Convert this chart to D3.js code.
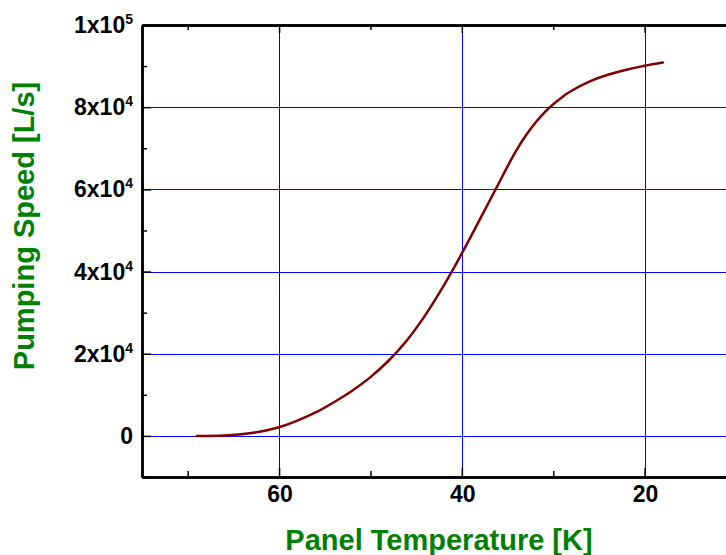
<!DOCTYPE html>
<html>
<head>
<meta charset="utf-8">
<script src="https://cdn.jsdelivr.net/npm/d3@7"></script>
<style>
  body { margin: 0; background: #fff; }
  text { font-family: "Liberation Sans", Arial, sans-serif; font-weight: bold; }
</style>
</head>
<body>
<svg id="chart"></svg>
<script>
// panel temperature [K] vs pumping speed [L/s]
const temps = [69, 66, 63, 60, 58, 56, 54, 52, 50, 48, 46, 44, 42, 40, 38, 36, 35, 34, 33, 32, 31, 30, 29, 28, 26, 24, 22, 20, 18];
const speeds = [0, 120, 690, 2100, 3700, 5700, 8200, 11000, 14300, 18350, 23300, 29400, 36500, 44400, 52800, 61300, 65600, 69600, 73100, 76100, 78600, 80700, 82500, 84000, 86300, 87900, 89100, 90100, 90900];

const xTicks = [60, 40, 20];
const xMinor = [70, 50, 30];
const yTicks = [0, 20000, 40000, 60000, 80000, 100000];
const yMinor = [-10000, 10000, 30000, 50000, 70000, 90000];
const yLabels = [['0', ''], ['2x10', '4'], ['4x10', '4'], ['6x10', '4'], ['8x10', '4'], ['1x10', '5']];

const width = 726, height = 555;
const marginLeft = 142, marginTop = 25, marginBottom = 78, plotRight = 736;

const svg = d3.select('#chart')
  .attr('width', width)
  .attr('height', height);

const x = d3.scaleLinear()
  .domain([75, 10])
  .range([marginLeft, plotRight]);

const y = d3.scaleLinear()
  .domain([-10000, 100000])
  .range([height - marginBottom, marginTop]);

// grid
svg.append('g')
  .selectAll('line')
  .data(yTicks.filter((d) => d < 100000))
  .join('line')
  .attr('x1', marginLeft).attr('x2', plotRight)
  .attr('y1', (d) => Math.round(y(d)) + 0.5).attr('y2', (d) => Math.round(y(d)) + 0.5)
  .style('stroke', '#0000ff')
  .style('stroke-width', 1);

svg.append('g')
  .selectAll('line')
  .data(xTicks)
  .join('line')
  .attr('x1', (d) => Math.round(x(d)) + 0.5).attr('x2', (d) => Math.round(x(d)) + 0.5)
  .attr('y1', marginTop).attr('y2', height - marginBottom)
  .style('stroke', '#0000ff')
  .style('stroke-width', 1);

// curve
const line = d3.line()
  .x((d, i) => x(temps[i]))
  .y((d) => y(d))
  .curve(d3.curveNatural);

svg.append('path')
  .datum(speeds)
  .attr('d', line)
  .style('fill', 'none')
  .style('stroke', '#800000')
  .style('stroke-width', 2.5)
  .style('stroke-linecap', 'round');

// axes, ticks inside
function cleanAxis(g) {
  g.select('.domain').style('stroke', '#000').style('stroke-width', 2.5);
  g.selectAll('.tick line').style('stroke', '#000').style('stroke-width', 1.5);
  g.selectAll('.tick text').remove();
}

svg.append('g')
  .attr('transform', `translate(0,${height - marginBottom})`)
  .call(d3.axisBottom(x).tickValues(xTicks).tickSizeInner(-9).tickSizeOuter(0))
  .call(cleanAxis);
svg.append('g')
  .attr('transform', `translate(0,${height - marginBottom})`)
  .call(d3.axisBottom(x).tickValues(xMinor).tickSizeInner(-6).tickSizeOuter(0))
  .call(cleanAxis);

svg.append('g')
  .attr('transform', `translate(0,${marginTop})`)
  .call(d3.axisTop(x).tickValues(xTicks).tickSizeInner(-8).tickSizeOuter(0))
  .call(cleanAxis);
svg.append('g')
  .attr('transform', `translate(0,${marginTop})`)
  .call(d3.axisTop(x).tickValues(xMinor).tickSizeInner(-5).tickSizeOuter(0))
  .call(cleanAxis);

svg.append('g')
  .attr('transform', `translate(${marginLeft},0)`)
  .call(d3.axisLeft(y).tickValues(yTicks).tickSizeInner(-9).tickSizeOuter(0))
  .call(cleanAxis);
svg.append('g')
  .attr('transform', `translate(${marginLeft},0)`)
  .call(d3.axisLeft(y).tickValues(yMinor).tickSizeInner(-5).tickSizeOuter(0))
  .call(cleanAxis);

// tick labels
svg.append('g')
  .selectAll('text')
  .data(xTicks)
  .join('text')
  .attr('x', (d) => x(d) + 1)
  .attr('y', height - marginBottom + 25)
  .attr('text-anchor', 'middle')
  .style('font-size', '23px')
  .text((d) => d);

const yl = svg.append('g')
  .selectAll('text')
  .data(yTicks)
  .join('text')
  .attr('x', 133)
  .attr('y', (d) => y(d) + 8)
  .attr('text-anchor', 'end')
  .style('font-size', '23px');
yl.append('tspan').text((d, i) => yLabels[i][0]);
yl.append('tspan')
  .attr('dy', -9)
  .style('font-size', '14px')
  .text((d, i) => yLabels[i][1]);

// axis titles
svg.append('text')
  .attr('x', (marginLeft + plotRight) / 2)
  .attr('y', 550)
  .attr('text-anchor', 'middle')
  .style('font-size', '29px')
  .style('fill', '#008000')
  .text('Panel Temperature [K]');

svg.append('text')
  .attr('transform', 'translate(34,226) rotate(-90)')
  .attr('text-anchor', 'middle')
  .style('font-size', '29px')
  .style('fill', '#008000')
  .text('Pumping Speed [L/s]');
</script>
</body>
</html>
